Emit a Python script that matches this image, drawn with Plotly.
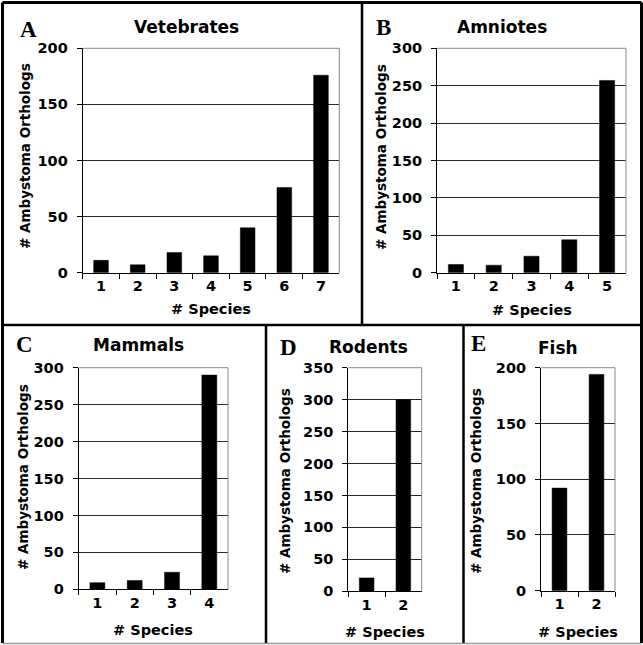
import plotly.graph_objects as go

W, H = 643, 645

# Ortholog counts per number of species sharing the gene
vert_species = ["1", "2", "3", "4", "5", "6", "7"]
vert_counts = [11, 7, 18, 15, 40, 76, 176]

amni_species = ["1", "2", "3", "4", "5"]
amni_counts = [11, 10, 22, 44, 257]

mamm_species = ["1", "2", "3", "4"]
mamm_counts = [9, 12, 23, 290]

rode_species = ["1", "2"]
rode_counts = [21, 300]

fish_species = ["1", "2"]
fish_counts = [92, 194]

panels = [
    # plot box (x0, x1, y0, y1 px) and text positions in page pixels
    dict(letter="A", title="Vetebrates", cats=vert_species, vals=vert_counts, ymax=200,
         box=(82.7, 339.3, 48.3, 272.7), lpos=(28, 29), tpos=(186, 27), ypos=(25, 156), xpos=(211, 309)),
    dict(letter="B", title="Amniotes", cats=amni_species, vals=amni_counts, ymax=300,
         box=(437, 626, 48.3, 272.7), lpos=(383, 28), tpos=(502, 27), ypos=(381, 157), xpos=(532, 310)),
    dict(letter="C", title="Mammals", cats=mamm_species, vals=mamm_counts, ymax=300,
         box=(78.7, 228, 367.7, 589.3), lpos=(24, 345), tpos=(138, 345), ypos=(23, 477), xpos=(153, 630)),
    dict(letter="D", title="Rodents", cats=rode_species, vals=rode_counts, ymax=350,
         box=(348.3, 421.7, 367.7, 591.3), lpos=(288, 347), tpos=(368, 347), ypos=(285, 481), xpos=(385, 632)),
    dict(letter="E", title="Fish", cats=fish_species, vals=fish_counts, ymax=200,
         box=(541, 615, 367.7, 590.7), lpos=(478, 343), tpos=(558, 348), ypos=(476, 481), xpos=(578, 632)),
]

SANS = "DejaVu Sans"
SERIF = "Liberation Serif"

fig = go.Figure()
annotations = []
shapes = []


def px_x(v):
    return v / W


def px_y(v):
    return 1 - v / H


for i, p in enumerate(panels):
    n = "" if i == 0 else str(i + 1)
    xa, ya = "x" + n, "y" + n
    fig.add_trace(go.Bar(x=p["cats"], y=p["vals"], xaxis=xa, yaxis=ya,
                         marker=dict(color="black", line=dict(color="black", width=0.5)),
                         showlegend=False))
    x0, x1, y0, y1 = p["box"]
    fig.layout["xaxis" + n] = dict(
        domain=[px_x(x0), px_x(x1)], anchor=ya, type="category", automargin=False,
        tickson="boundaries", ticks="outside", ticklen=5, tickcolor="black",
        showline=True, linecolor="black", linewidth=1, showgrid=False,
        tickfont=dict(family=SANS, size=14.5, color="black", weight="bold"),
        fixedrange=True,
    )
    fig.layout["yaxis" + n] = dict(
        domain=[px_y(y1), px_y(y0)], anchor=xa, range=[0, p["ymax"]], dtick=50,
        automargin=False,
        ticks="outside", ticklen=5, tickcolor="black", ticklabelstandoff=6,
        showline=True, linecolor="black", linewidth=1,
        showgrid=True, gridcolor="#2a2a2a", gridwidth=1, zeroline=False,
        tickfont=dict(family=SANS, size=14.5, color="black", weight="bold"),
        fixedrange=True,
    )
    # top and right edges of the plot area
    shapes.append(dict(type="line", xref="paper", yref="paper", x0=px_x(x0), x1=px_x(x1),
                       y0=px_y(y0), y1=px_y(y0), line=dict(color="#8a8a8a", width=1)))
    shapes.append(dict(type="line", xref="paper", yref="paper", x0=px_x(x1), x1=px_x(x1),
                       y0=px_y(y0), y1=px_y(y1), line=dict(color="#8a8a8a", width=1)))

    annotations.append(dict(text=p["letter"], x=px_x(p["lpos"][0]), y=px_y(p["lpos"][1]),
                            xref="paper", yref="paper", showarrow=False, xanchor="center", yanchor="middle",
                            font=dict(family=SERIF, size=23, color="black", weight="bold")))
    annotations.append(dict(text=p["title"], x=px_x(p["tpos"][0]), y=px_y(p["tpos"][1]),
                            xref="paper", yref="paper", showarrow=False, xanchor="center", yanchor="middle",
                            font=dict(family=SANS, size=17, color="black", weight="bold")))
    annotations.append(dict(text="# Ambystoma Orthologs", x=px_x(p["ypos"][0]), y=px_y(p["ypos"][1]),
                            xref="paper", yref="paper", showarrow=False, xanchor="center", yanchor="middle",
                            textangle=-90,
                            font=dict(family=SANS, size=13.5, color="black", weight="bold")))
    annotations.append(dict(text="# Species", x=px_x(p["xpos"][0]), y=px_y(p["xpos"][1]),
                            xref="paper", yref="paper", showarrow=False, xanchor="center", yanchor="middle",
                            font=dict(family=SANS, size=14.5, color="black", weight="bold")))

# Panel frame: outer border and dividers
frame = [
    (2.5, 2.5, 641.5, 2.5, 3, "black"),      # top
    (2.5, 2.5, 2.5, 643, 3, "black"),        # left
    (641.5, 2.5, 641.5, 643, 3, "black"),    # right
    (2.5, 643.5, 641.5, 643.5, 1.5, "#9a9a9a"),  # bottom
    (362, 2.5, 362, 325, 2.5, "black"),      # top-row divider
    (2.5, 325, 641.5, 325, 2.5, "black"),    # row divider
    (266, 325, 266, 643, 2.5, "black"),      # bottom-row dividers
    (463.5, 325, 463.5, 643, 2.5, "black"),
]
for fx0, fy0, fx1, fy1, w, c in frame:
    shapes.append(dict(type="line", xref="paper", yref="paper",
                       x0=px_x(fx0), y0=px_y(fy0), x1=px_x(fx1), y1=px_y(fy1),
                       line=dict(color=c, width=w)))

fig.update_layout(
    width=W, height=H, margin=dict(l=0, r=0, t=0, b=0, pad=0, autoexpand=False),
    paper_bgcolor="white", plot_bgcolor="white",
    bargap=0.6, annotations=annotations, shapes=shapes, showlegend=False,
)

fig.write_html("out.html", config={"displayModeBar": False})
